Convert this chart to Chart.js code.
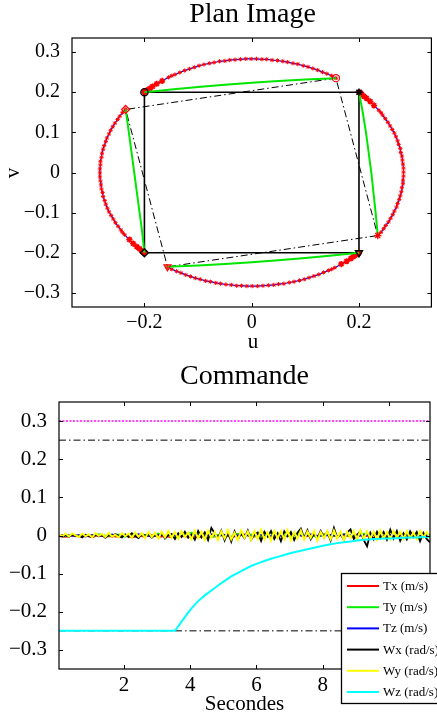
<!DOCTYPE html>
<html><head><meta charset="utf-8">
<script src="https://cdn.jsdelivr.net/npm/chart.js@4.4.0/dist/chart.umd.min.js"></script>
<style>
html,body{margin:0;padding:0;background:#fff;}
canvas{display:block;}
</style></head><body>
<canvas id="plan" width="437" height="360"></canvas>
<canvas id="cmd" width="437" height="358"></canvas>
<script>
// ---------------- DATA: Plan Image ----------------
const uRange = [-0.335, 0.335];
const vRange = [-0.335, 0.335];
const uTicks = [-0.2, 0, 0.2];
const vTicks = [-0.3, -0.2, -0.1, 0, 0.1, 0.2, 0.3];

// image-point trajectories (u, v)
const arc1U = [0.157,0.149,0.140,0.132,0.123,0.114,0.105,0.096,0.086,0.077,0.067,0.058,0.048,0.038,0.028,0.019,0.009,-0.001,-0.011,-0.021,-0.031,-0.041,-0.050,-0.060,-0.070,-0.079,-0.089,-0.098,-0.107,-0.116,-0.125,-0.134,-0.143,-0.149,-0.155,-0.167,-0.177,-0.185,-0.190,-0.195,-0.198,-0.199,-0.200];
const arc1V = [0.235,0.241,0.246,0.250,0.255,0.259,0.263,0.266,0.270,0.272,0.275,0.277,0.279,0.280,0.282,0.282,0.283,0.283,0.283,0.282,0.281,0.280,0.278,0.277,0.274,0.272,0.269,0.266,0.262,0.258,0.254,0.249,0.244,0.241,0.237,0.228,0.221,0.214,0.209,0.205,0.203,0.201,0.200];
const arc2U = [-0.235,-0.241,-0.246,-0.250,-0.255,-0.259,-0.263,-0.266,-0.270,-0.272,-0.275,-0.277,-0.279,-0.280,-0.282,-0.282,-0.283,-0.283,-0.283,-0.282,-0.281,-0.280,-0.278,-0.277,-0.274,-0.272,-0.269,-0.266,-0.262,-0.258,-0.254,-0.249,-0.244,-0.241,-0.237,-0.228,-0.221,-0.214,-0.209,-0.205,-0.203,-0.201,-0.200];
const arc2V = [0.157,0.149,0.140,0.132,0.123,0.114,0.105,0.096,0.086,0.077,0.067,0.058,0.048,0.038,0.028,0.019,0.009,-0.001,-0.011,-0.021,-0.031,-0.041,-0.050,-0.060,-0.070,-0.079,-0.089,-0.098,-0.107,-0.116,-0.125,-0.134,-0.143,-0.149,-0.155,-0.167,-0.177,-0.185,-0.190,-0.195,-0.198,-0.199,-0.200];
const arc3U = [-0.157,-0.149,-0.140,-0.132,-0.123,-0.114,-0.105,-0.096,-0.086,-0.077,-0.067,-0.058,-0.048,-0.038,-0.028,-0.019,-0.009,0.001,0.011,0.021,0.031,0.041,0.050,0.060,0.070,0.079,0.089,0.098,0.107,0.116,0.125,0.134,0.143,0.149,0.155,0.167,0.177,0.185,0.190,0.195,0.198,0.199,0.200];
const arc3V = [-0.235,-0.241,-0.246,-0.250,-0.255,-0.259,-0.263,-0.266,-0.270,-0.272,-0.275,-0.277,-0.279,-0.280,-0.282,-0.282,-0.283,-0.283,-0.283,-0.282,-0.281,-0.280,-0.278,-0.277,-0.274,-0.272,-0.269,-0.266,-0.262,-0.258,-0.254,-0.249,-0.244,-0.241,-0.237,-0.228,-0.221,-0.214,-0.209,-0.205,-0.203,-0.201,-0.200];
const arc4U = [0.235,0.241,0.246,0.250,0.255,0.259,0.263,0.266,0.270,0.272,0.275,0.277,0.279,0.280,0.282,0.282,0.283,0.283,0.283,0.282,0.281,0.280,0.278,0.277,0.274,0.272,0.269,0.266,0.262,0.258,0.254,0.249,0.244,0.241,0.237,0.228,0.221,0.214,0.209,0.205,0.203,0.201,0.200];
const arc4V = [-0.157,-0.149,-0.140,-0.132,-0.123,-0.114,-0.105,-0.096,-0.086,-0.077,-0.067,-0.058,-0.048,-0.038,-0.028,-0.019,-0.009,0.001,0.011,0.021,0.031,0.041,0.050,0.060,0.070,0.079,0.089,0.098,0.107,0.116,0.125,0.134,0.143,0.149,0.155,0.167,0.177,0.185,0.190,0.195,0.198,0.199,0.200];

// desired (green) paths
const gTopU = [0.157,0.1,0.05,0,-0.05,-0.1,-0.15,-0.2];
const gTopV = [0.235,0.2315,0.228,0.2235,0.2186,0.213,0.2068,0.2];
const gBotU = [-0.157,-0.1,-0.05,0,0.05,0.1,0.15,0.2];
const gBotV = [-0.235,-0.2315,-0.228,-0.2235,-0.2186,-0.213,-0.2068,-0.2];
const gLeftU = [-0.235,-0.229,-0.224,-0.219,-0.214,-0.209,-0.204,-0.2];
const gLeftV = [0.157,0.1,0.05,0,-0.05,-0.1,-0.15,-0.2];
const gRightU = [0.235,0.231,0.227,0.223,0.218,0.213,0.207,0.2];
const gRightV = [-0.157,-0.1,-0.05,0,0.05,0.1,0.15,0.2];

// squares
const finalSqU = [-0.2,0.2,0.2,-0.2,-0.2];
const finalSqV = [0.2,0.2,-0.2,-0.2,0.2];
const initSqU = [0.157,-0.235,-0.157,0.235,0.157];
const initSqV = [0.235,0.157,-0.235,-0.157,0.235];

// start / end markers
const startU = [0.157,-0.235,-0.157,0.235];
const startV = [0.235,0.157,-0.235,-0.157];
const endU = [-0.2,-0.2,0.2,0.2];
const endV = [0.2,-0.2,-0.2,0.2];

// ---------------- DATA: Commande ----------------
const tRange = [0.04, 11.24];
const cRange = [-0.35, 0.35];
const tTicks = [2, 4, 6, 8, 10];
const cTicks = [-0.3, -0.2, -0.1, 0, 0.1, 0.2, 0.3];
const refDotted = [0.3];
const refDashDot = [0.25, -0.25];

const timeFine = [0.04,0.14,0.24,0.34,0.44,0.54,0.64,0.74,0.84,0.94,
 1.04,1.14,1.24,1.34,1.44,1.54,1.64,1.74,1.84,1.94,
 2.04,2.14,2.24,2.34,2.44,2.54,2.64,2.74,2.84,2.94,
 3.04,3.14,3.24,3.34,3.44,3.54,3.64,3.74,3.84,3.94,
 4.04,4.14,4.24,4.34,4.44,4.54,4.64,4.74,4.84,4.94,
 5.04,5.14,5.24,5.34,5.44,5.54,5.64,5.74,5.84,5.94,
 6.04,6.14,6.24,6.34,6.44,6.54,6.64,6.74,6.84,6.94,
 7.04,7.14,7.24,7.34,7.44,7.54,7.64,7.74,7.84,7.94,
 8.04,8.14,8.24,8.34,8.44,8.54,8.64,8.74,8.84,8.94,
 9.04,9.14,9.24,9.34,9.44,9.54,9.64,9.74,9.84,9.94,
 10.04,10.14,10.24,10.34,10.44,10.54,10.64,10.74,10.84,10.94,
 11.04,11.14,11.24];
const wx = [0.002,-0.003,0.001,-0.004,0.003,-0.002,0.000,-0.005,0.002,-0.001,
 -0.004,0.003,-0.002,0.001,-0.006,0.002,-0.003,0.004,-0.001,-0.005,
 0.003,-0.004,0.006,-0.002,-0.007,0.004,-0.001,0.005,-0.006,0.002,
 -0.003,0.007,-0.008,0.001,0.004,-0.009,0.006,-0.004,0.010,-0.006,
 0.003,-0.011,0.012,-0.005,0.008,-0.012,0.020,0.006,-0.008,0.013,
 -0.013,0.009,-0.016,0.011,-0.010,0.005,-0.007,0.013,-0.011,0.003,
 0.008,-0.014,0.010,-0.003,0.012,-0.009,0.006,-0.015,0.011,-0.002,
 0.009,-0.012,0.007,0.018,-0.006,0.014,-0.010,0.004,-0.008,0.012,
 -0.005,0.010,-0.013,0.020,-0.006,0.004,-0.011,0.008,0.016,-0.009,
 0.002,0.012,-0.012,-0.028,0.007,-0.010,0.010,-0.006,0.009,-0.011,
 0.015,-0.008,0.012,-0.014,0.006,-0.010,0.011,-0.004,0.009,-0.015,
 0.007,-0.009,-0.018];
const wy = [0.004,-0.002,0.005,-0.003,0.006,0.000,-0.004,0.005,-0.002,0.003,
 -0.005,0.006,-0.001,0.004,-0.004,0.007,-0.003,0.002,-0.005,0.006,
 -0.002,0.005,-0.006,0.008,-0.003,0.006,-0.007,0.009,-0.004,0.007,
 -0.008,0.010,-0.005,0.012,-0.006,0.009,-0.009,0.011,-0.004,0.008,
 -0.010,0.012,-0.007,0.010,-0.011,0.013,-0.006,0.009,-0.012,0.011,
 -0.008,0.014,-0.010,0.007,-0.012,0.013,-0.006,0.010,-0.011,0.012,
 -0.009,0.015,-0.010,0.008,-0.013,0.012,-0.007,0.011,-0.010,0.014,
 -0.012,0.009,-0.008,0.013,-0.011,0.010,-0.006,0.012,-0.013,0.009,
 -0.007,0.011,-0.010,0.013,-0.008,0.010,-0.012,0.009,-0.006,0.012,
 -0.010,0.014,-0.009,0.011,-0.007,0.010,-0.011,0.013,-0.008,0.009,
 -0.010,0.012,-0.006,0.010,-0.009,0.011,-0.007,0.008,-0.010,0.012,
 -0.005,0.009,-0.006];

const timeCoarse = [0.04,0.24,0.44,0.64,0.84,1.04,1.24,1.44,1.64,1.84,
 2.04,2.24,2.44,2.64,2.84,3.04,3.24,3.44,3.64,3.84,
 4.04,4.24,4.44,4.64,4.84,5.04,5.24,5.44,5.64,5.84,
 6.04,6.24,6.44,6.64,6.84,7.04,7.24,7.44,7.64,7.84,
 8.04,8.24,8.44,8.64,8.84,9.04,9.24,9.44,9.64,9.84,
 10.04,10.24,10.44,10.64,10.84,11.04,11.24];
const tx = [-0.002,-0.004,0.000,-0.003,-0.001,-0.005,0.001,-0.003,-0.002,-0.004,
 0.000,-0.006,-0.001,-0.003,0.001,-0.004,-0.002,-0.005,0.002,-0.003,
 -0.001,-0.006,0.001,-0.004,-0.002,0.002,-0.005,-0.001,0.003,-0.004,
 -0.002,0.001,-0.005,0.002,-0.003,-0.001,0.003,-0.004,0.000,-0.002,
 0.004,-0.003,-0.001,0.002,-0.004,0.003,-0.002,-0.001,0.004,-0.003,
 0.001,-0.002,0.003,-0.004,0.000,-0.002,0.001];
const ty = [0.001,-0.002,0.003,-0.001,0.002,-0.003,0.004,0.000,-0.002,0.003,
 -0.004,0.005,-0.001,0.002,-0.003,0.006,-0.002,0.001,-0.004,0.003,
 0.008,-0.002,0.004,-0.005,0.002,0.001,-0.003,0.005,-0.001,0.003,
 -0.004,0.002,0.006,-0.002,0.001,-0.003,0.004,-0.001,0.002,-0.005,
 0.003,0.000,-0.002,0.004,-0.003,0.002,0.005,-0.001,0.003,-0.002,
 0.001,-0.004,0.003,0.000,0.002,-0.001,0.001];
const tz = [0.000,0.002,-0.001,0.001,-0.003,0.002,0.000,-0.002,0.003,-0.001,
 0.001,-0.002,0.004,0.000,-0.003,0.002,-0.001,0.003,-0.002,0.001,
 0.000,0.003,-0.002,0.004,-0.001,0.002,-0.003,0.001,0.002,-0.002,
 0.003,0.000,-0.001,0.002,-0.003,0.004,0.001,-0.002,0.003,0.000,
 -0.001,0.002,-0.002,0.003,0.001,-0.003,0.002,0.000,0.004,-0.001,
 0.002,-0.002,0.001,0.003,-0.001,0.000,0.002];

const wzTime = [0.04,1.0,2.0,3.0,3.54,3.64,3.74,3.84,3.94,4.04,
 4.24,4.44,4.64,4.84,5.04,5.24,5.44,5.64,5.84,6.04,
 6.24,6.44,6.64,6.84,7.04,7.24,7.44,7.64,7.84,8.04,
 8.24,8.44,8.64,8.84,9.04,9.24,9.44,9.64,9.84,10.04,
 10.24,10.44,10.64,10.84,11.04,11.24];
const wz = [-0.25,-0.25,-0.25,-0.25,-0.25,-0.238,-0.226,-0.214,-0.202,-0.191,
 -0.172,-0.157,-0.144,-0.131,-0.119,-0.107,-0.098,-0.089,-0.080,-0.073,
 -0.067,-0.061,-0.056,-0.051,-0.046,-0.042,-0.038,-0.034,-0.030,-0.026,
 -0.023,-0.020,-0.018,-0.016,-0.013,-0.011,-0.010,-0.009,-0.008,-0.008,
 -0.007,-0.006,-0.005,-0.005,-0.004,-0.003];

const legendLabels = ['Tx (m/s)','Ty (m/s)','Tz (m/s)','Wx (rad/s)','Wy (rad/s)','Wz (rad/s)'];
const seriesColors = ['#ff0000','#00ee00','#0000ff','#000000','#ffff00','#00ffff'];

// ---------------- helpers ----------------
const FONT = "'Liberation Serif','Times New Roman',serif";
const pts = (xs, ys) => xs.map((x, i) => ({x: x, y: ys[i]}));
function fmt(v){
  if (Math.abs(v) < 1e-9) return '0';
  const s = Number.isInteger(v) ? String(Math.abs(v)) : Math.abs(v).toFixed(1);
  return (v < 0 ? '\u2212' : '') + s;
}
function axis(range, ticks, fontSize, pad, fit, horizontal){
  return {
    type: 'linear', min: range[0], max: range[1],
    grid: {display: false}, border: {display: false},
    ticks: {font: {family: FONT, size: fontSize}, color: '#000', padding: pad,
            maxRotation: 0, autoSkip: false, callback: (v) => fmt(v)},
    afterBuildTicks: (s) => { s.ticks = ticks.map(v => ({value: v})); },
    afterFit: (s) => { if (horizontal) s.height = fit; else s.width = fit; }
  };
}
function decor(o){
  return {
    id: 'decor',
    afterDatasetsDraw(chart){
      const {ctx, chartArea: a, scales: {x, y}} = chart;
      ctx.save();
      ctx.strokeStyle = '#000'; ctx.lineWidth = 1;
      ctx.beginPath();
      o.xTicks.forEach(v => {
        const p = Math.round(x.getPixelForValue(v)) + 0.5;
        ctx.moveTo(p, a.bottom); ctx.lineTo(p, a.bottom - o.tick);
        ctx.moveTo(p, a.top); ctx.lineTo(p, a.top + o.tick);
      });
      o.yTicks.forEach(v => {
        const p = Math.round(y.getPixelForValue(v)) + 0.5;
        ctx.moveTo(a.left, p); ctx.lineTo(a.left + o.tick, p);
        ctx.moveTo(a.right, p); ctx.lineTo(a.right - o.tick, p);
      });
      ctx.stroke();
      ctx.lineWidth = 1.2;
      ctx.strokeRect(a.left, a.top, a.right - a.left, a.bottom - a.top);
      ctx.restore();
    },
    afterDraw(chart){
      const ctx = chart.ctx;
      ctx.save();
      ctx.fillStyle = '#000';
      ctx.textAlign = 'center'; ctx.textBaseline = 'alphabetic';
      ctx.font = o.titleSize + 'px ' + FONT;
      ctx.fillText(o.title, o.titlePos[0], o.titlePos[1]);
      ctx.font = o.labelSize + 'px ' + FONT;
      ctx.fillText(o.xLabel, o.xLabelPos[0], o.xLabelPos[1]);
      if (o.yLabel){
        ctx.save();
        ctx.translate(o.yLabelPos[0], o.yLabelPos[1]);
        ctx.rotate(-Math.PI / 2);
        ctx.textBaseline = 'middle';
        ctx.fillText(o.yLabel, 0, 0);
        ctx.restore();
      }
      if (o.legend){
        const L = o.legend;
        ctx.fillStyle = '#fff';
        ctx.fillRect(L.x, L.y, L.w, L.h);
        ctx.strokeStyle = '#000'; ctx.lineWidth = 1.3;
        ctx.strokeRect(L.x + 0.5, L.y + 0.5, L.w, L.h);
        ctx.font = L.size + 'px ' + FONT;
        ctx.textAlign = 'left'; ctx.textBaseline = 'middle';
        const items = chart.data.datasets.filter(d => d.inLegend);
        items.forEach((d, i) => {
          const yy = L.y + L.first + i * L.step;
          ctx.strokeStyle = d.borderColor; ctx.lineWidth = 2;
          ctx.beginPath(); ctx.moveTo(L.x + 6, yy); ctx.lineTo(L.x + 38, yy); ctx.stroke();
          ctx.fillStyle = '#000';
          ctx.fillText(d.label, L.x + 42, yy + 0.5);
        });
      }
      ctx.restore();
    }
  };
}

// ---------------- Plan Image chart ----------------
const lineDs = (xs, ys, color, width, order, extra) => Object.assign({
  data: pts(xs, ys), showLine: true, borderColor: color, borderWidth: width,
  pointRadius: 0, fill: false, tension: 0, order: order
}, extra || {});
// markers grow where the measured points pile up near the end of each trajectory
const arcMarkR = (ctx) => ctx.dataIndex >= 35 ? 3.1 : 2.1;
const arcMarkW = (ctx) => ctx.dataIndex >= 35 ? 1.6 : 1;
const arcDs = (xs, ys) => lineDs(xs, ys, '#0000ff', 1.2, 4, {
  pointRadius: arcMarkR, pointStyle: 'star', pointBorderColor: '#ff0000',
  pointBackgroundColor: '#ff0000', pointBorderWidth: arcMarkW
});
const markerStyles = ['circle', 'rectRot', 'triangle', 'star'];
const markerRot = [0, 0, 180, 0];

new Chart(document.getElementById('plan'), {
  type: 'scatter',
  data: { datasets: [
    lineDs(initSqU, initSqV, '#000', 1, 6, {borderDash: [7, 3, 1.5, 3]}),
    lineDs(finalSqU, finalSqV, '#000', 1.6, 5),
    arcDs(arc1U, arc1V), arcDs(arc2U, arc2V), arcDs(arc3U, arc3V), arcDs(arc4U, arc4V),
    lineDs(gTopU, gTopV, '#00e600', 2, 3),
    lineDs(gLeftU, gLeftV, '#00e600', 2, 3),
    lineDs(gBotU, gBotV, '#00e600', 2, 3),
    lineDs(gRightU, gRightV, '#00e600', 2, 3),
    { data: pts(startU, startV), showLine: false, pointStyle: markerStyles, pointRotation: markerRot,
      pointRadius: [3.6, 4, 4, 3.6], pointBorderColor: '#ff0000', pointBackgroundColor: 'rgba(255,255,255,0)',
      pointBorderWidth: 1.2, order: 1 },
    { data: pts(endU, endV), showLine: false, pointStyle: markerStyles, pointRotation: markerRot,
      pointRadius: [3.6, 4, 4, 3.6], pointBorderColor: '#000', pointBackgroundColor: 'rgba(255,255,255,0)',
      pointBorderWidth: 1.4, order: 2 }
  ]},
  options: {
    responsive: false, animation: false, events: [],
    layout: {padding: {left: 0, right: 4, top: 38, bottom: 0}},
    plugins: {legend: {display: false}, tooltip: {enabled: false}, title: {display: false}},
    scales: {
      x: axis(uRange, uTicks, 20, -4, 53, true),
      y: axis(vRange, vTicks, 20, 4, 72, false)
    }
  },
  plugins: [decor({
    xTicks: uTicks, yTicks: vTicks, tick: 4,
    title: 'Plan Image', titleSize: 28, titlePos: [252.5, 22],
    labelSize: 21, xLabel: 'u', xLabelPos: [253, 348], yLabel: 'v', yLabelPos: [13, 173]
  })]
});

// ---------------- Commande chart ----------------
const serDs = (label, xs, ys, color, width, order) => ({
  label: label, inLegend: true, data: pts(xs, ys), borderColor: color, backgroundColor: color,
  borderWidth: width, pointRadius: 0, tension: 0, fill: false, order: order
});
const refDs = (level, color, dash, width) => ({
  data: pts(tRange, [level, level]), borderColor: color, borderDash: dash, borderWidth: width,
  pointRadius: 0, tension: 0, fill: false, order: 10
});

new Chart(document.getElementById('cmd'), {
  type: 'line',
  data: { datasets: [
    serDs(legendLabels[0], timeCoarse, tx, seriesColors[0], 1.5, 6),
    serDs(legendLabels[1], timeCoarse, ty, seriesColors[1], 1.5, 5),
    serDs(legendLabels[2], timeCoarse, tz, seriesColors[2], 1.5, 4),
    serDs(legendLabels[3], timeFine, wx, seriesColors[3], 1.8, 3),
    serDs(legendLabels[4], timeFine, wy, seriesColors[4], 2, 2),
    serDs(legendLabels[5], wzTime, wz, seriesColors[5], 2, 1),
    refDs(refDotted[0], '#ff44ff', [2, 1.5], 2),
    refDs(refDashDot[0], '#000', [7, 3, 1.5, 3], 1),
    refDs(refDashDot[1], '#000', [7, 3, 1.5, 3], 1)
  ]},
  options: {
    responsive: false, animation: false, events: [],
    layout: {padding: {left: 0, right: 7, top: 42, bottom: 0}},
    plugins: {legend: {display: false}, tooltip: {enabled: false}, title: {display: false}},
    scales: {
      x: axis(tRange, tTicks, 21, -4, 49, true),
      y: axis(cRange, cTicks, 21, 4, 59, false)
    }
  },
  plugins: [decor({
    xTicks: tTicks, yTicks: cTicks, tick: 4,
    title: 'Commande', titleSize: 28, titlePos: [244.5, 23.5],
    labelSize: 21, xLabel: 'Secondes', xLabelPos: [244.5, 350],
    legend: {x: 341, y: 213, w: 130, h: 130, first: 13, step: 21.2, size: 13}
  })]
});
</script></body></html>
